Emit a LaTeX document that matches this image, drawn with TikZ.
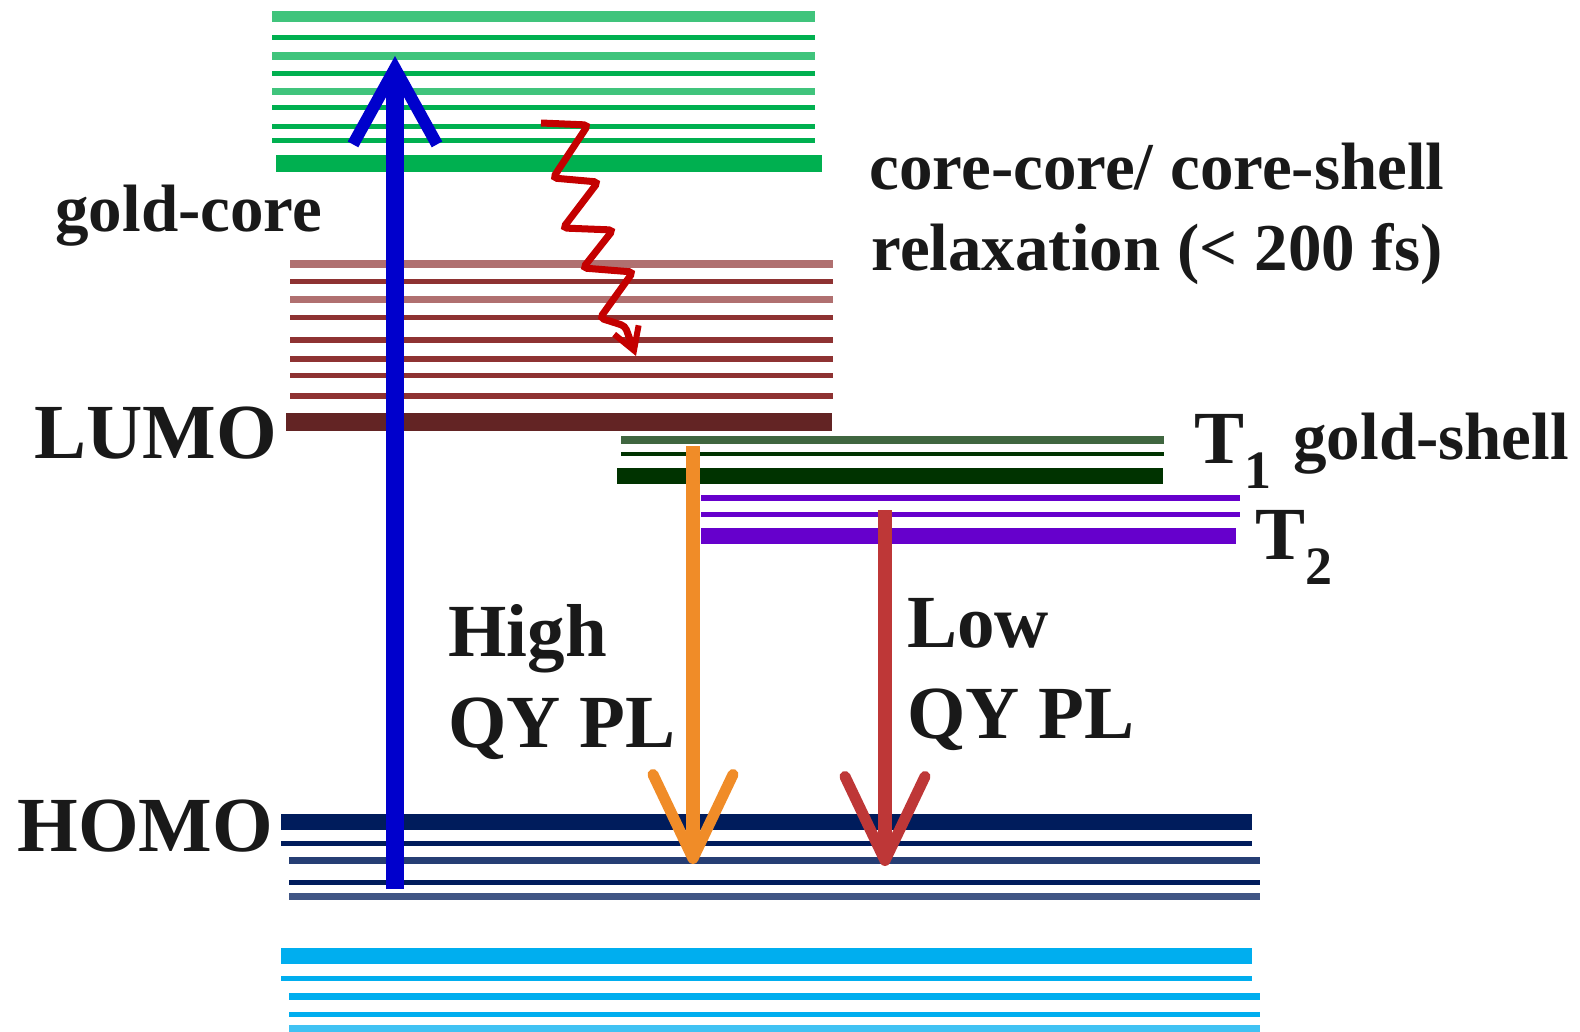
\documentclass[tikz,border=0pt]{standalone}
\usepackage{fontspec}
\setmainfont{Liberation Serif}
\usetikzlibrary{arrows.meta}

\definecolor{coregreen}{RGB}{0,176,80}
\definecolor{shellbrown}{RGB}{142,50,50}
\definecolor{lumobrown}{RGB}{99,36,36}
\definecolor{tonegreen}{RGB}{0,51,0}
\definecolor{ttwopurple}{RGB}{102,0,204}
\definecolor{homonavy}{RGB}{0,28,92}
\definecolor{deepcyan}{RGB}{0,174,239}
\definecolor{pumpblue}{RGB}{0,0,204}
\definecolor{hiorange}{RGB}{240,140,40}
\definecolor{lored}{RGB}{190,55,55}
\definecolor{wavered}{RGB}{196,0,0}
\definecolor{labelink}{RGB}{25,25,25}

\newcommand{\lvsub}[1]{\raisebox{-12.5pt}{\fontsize{27}{27}\selectfont #1}}

\begin{document}
\begin{tikzpicture}[x=0.5pt, y=-0.5pt,
  big/.style={font=\fontsize{37.5}{45.5}\selectfont\bfseries, text=labelink, inner sep=0pt},
  edge/.style={font=\fontsize{39}{45}\selectfont\bfseries, text=labelink, inner sep=0pt},
  small/.style={font=\fontsize{33.5}{40.5}\selectfont\bfseries, text=labelink, inner sep=0pt},
  pump/.style={draw=pumpblue, line width=9pt, -{Straight Barb[length=38pt, width=42pt, line width=6pt]}},
  emit/.style={line width=7pt, -{Straight Barb[length=42pt, width=40pt, line width=5.5pt, round]}},
  wave/.style={draw=wavered, line width=3.5pt, rounded corners=2pt, -{Straight Barb[length=11pt, width=13pt, line width=3pt]}},
]
  \useasboundingbox (0,0) rectangle (1580,1032);

  % gold-core levels
  \foreach \y/\w/\c in {17/5.5pt/coregreen!75!white, 38/2.5pt/coregreen, 56/4pt/coregreen!75!white,
      74/2.5pt/coregreen, 92/3.5pt/coregreen!75!white, 108/2.5pt/coregreen, 127/2.5pt/coregreen, 141/2.5pt/coregreen}
    \draw[draw=\c, line width=\w] (272,\y) -- (815,\y);
  \draw[coregreen, line width=8.5pt] (276,164) -- (822,164);

  % core-shell levels and LUMO
  \foreach \y/\w/\c in {264/4pt/shellbrown!70!white, 282/2.5pt/shellbrown, 300/3.5pt/shellbrown!70!white,
      318/2.5pt/shellbrown, 340/3pt/shellbrown, 359/3pt/shellbrown, 375/2.5pt/shellbrown, 396/3pt/shellbrown}
    \draw[draw=\c, line width=\w] (290,\y) -- (833,\y);
  \draw[lumobrown, line width=9pt] (286,422) -- (832,422);

  % T1 and T2
  \draw[tonegreen!75!white, line width=4pt] (621,440) -- (1164,440);
  \draw[tonegreen, line width=2pt] (621,454) -- (1164,454);
  \draw[tonegreen, line width=8pt] (617,476) -- (1163,476);
  \draw[ttwopurple, line width=3pt] (701,498) -- (1240,498);
  \draw[ttwopurple, line width=2.5pt] (701,514) -- (1240,514);
  \draw[ttwopurple, line width=8pt] (701,536) -- (1236,536);

  % HOMO and below
  \foreach \y/\w/\c/\xa/\xb in {822/8pt/homonavy/281/1252, 843/2.5pt/homonavy/281/1252, 860/3.5pt/homonavy!85!white/289/1260,
      882/2.5pt/homonavy/289/1260, 896/3.5pt/homonavy!75!white/289/1260,
      956/8pt/deepcyan/281/1252, 978/2.5pt/deepcyan/281/1252, 996/3.5pt/deepcyan/289/1260,
      1014/2.5pt/deepcyan/289/1260, 1029/4pt/deepcyan!75!white/289/1260}
    \draw[draw=\c, line width=\w] (\xa,\y) -- (\xb,\y);

  % transitions
  \coordinate (homo-p) at (395,889);
  \coordinate (core-p) at (395,56);
  \coordinate (tone-e) at (693,446);
  \coordinate (homo-e) at (693,864);
  \coordinate (ttwo-e) at (885,510);
  \coordinate (homo-l) at (885,866);
  \coordinate (wv-a) at (541,123);
  \coordinate (wv-b) at (636,356);

  \draw[pump] (homo-p) -- (core-p);
  \draw[emit, draw=hiorange] (tone-e) -- (homo-e);
  \draw[emit, draw=lored] (ttwo-e) -- (homo-l);
  \draw[wave] (wv-a) -- (588,125) -- (553,178) -- (598,182) -- (563,228) -- (613,230)
    -- (583,268) -- (633,272) -- (600,318) -- (625,326) -- (wv-b);

  % labels
  \node[small, anchor=base west] (goldcore) at (55,232) {gold-core};
  \node[small, anchor=north, align=center] (relax) at (1157,143) {core-core/ core-shell\\relaxation (< 200 fs)};
  \node[edge, anchor=base west] (lumo) at (34,458) {LUMO};
  \node[edge, anchor=base west] (homo) at (17,851) {HOMO};
  \node[big, anchor=base west] (tone) at (1194,463) {T\lvsub{1}};
  \node[small, anchor=base west] (goldshell) at (1293,459) {gold-shell};
  \node[big, anchor=base west] (ttwo) at (1255,559) {T\lvsub{2}};
  \node[big, anchor=north west, align=left] (high) at (448,604) {High\\QY PL};
  \node[big, anchor=north west, align=left] (low) at (907,598) {Low\\QY PL};
\end{tikzpicture}
\end{document}
